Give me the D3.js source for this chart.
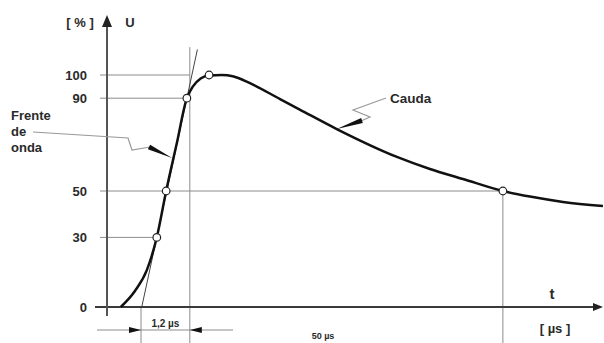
<!DOCTYPE html>
<html>
<head>
<meta charset="utf-8">
<script src="https://cdn.jsdelivr.net/npm/d3@7"></script>
<style>
  body { margin: 0; background: #fff; }
  svg { display: block; }
  text { font-family: "Liberation Sans", Arial, sans-serif; font-weight: bold; fill: #2a2a2a; }
</style>
</head>
<body>
<script>
// impulse wave, t in arbitrary (not to scale) units, u in %
const waveT = [2.8, 5.7, 8.1, 10.1, 12.0, 14.1, 16.2, 17.4, 19.0, 20.7, 23.3, 25.5, 29.0, 35.1, 39.1, 46.6, 58.8, 65.5, 72.2, 80.3, 85.8, 92.5, 100.6];
const waveU = [0, 7, 16, 30, 50, 70, 90, 95, 98.5, 99.8, 100, 99.5, 96.5, 89.6, 85.1, 76.7, 64.7, 59.5, 55.2, 50, 47.6, 45.3, 43.5];

// marked points on the wave
const markT = [10.1, 12.0, 16.2, 20.7, 80.3];
const markU = [30, 50, 90, 100, 50];

const yTicks = [0, 30, 50, 90, 100];

// virtual origin and the 1,2 us point
const frontT0 = 6.9, frontT1 = 16.8;

const width = 604, height = 343;

const x = d3.scaleLinear().domain([0, 100]).range([107, 600]);
const y = d3.scaleLinear().domain([0, 100]).range([307, 75]);

const svg = d3.select('body').append('svg')
    .attr('width', width)
    .attr('height', height);

const grid = '#8c8c8c';

// horizontal guide lines, each going to its marked point
const hEnd = { 100: x(frontT1), 90: x(markT[2]), 50: x(markT[4]), 30: x(markT[0]) };
svg.selectAll('.hgrid')
    .data([30, 50, 90, 100])
    .join('line')
    .attr('x1', 100)
    .attr('x2', d => hEnd[d])
    .attr('y1', d => y(d))
    .attr('y2', d => y(d))
    .attr('stroke', grid)
    .attr('stroke-width', 1);

// vertical guides
svg.append('line')
    .attr('x1', x(frontT1)).attr('x2', x(frontT1))
    .attr('y1', y(112)).attr('y2', height)
    .attr('stroke', grid);
svg.append('line')
    .attr('x1', x(markT[4])).attr('x2', x(markT[4]))
    .attr('y1', y(50)).attr('y2', height)
    .attr('stroke', grid);
svg.append('line')
    .attr('x1', x(frontT0)).attr('x2', x(frontT0))
    .attr('y1', y(0)).attr('y2', height)
    .attr('stroke', grid);

// tangent through 30% and 90%
const slope = (markU[2] - markU[0]) / (markT[2] - markT[0]);
const tAt = u => markT[0] + (u - markU[0]) / slope;
svg.append('line')
    .attr('x1', x(tAt(0))).attr('y1', y(0))
    .attr('x2', x(tAt(111))).attr('y2', y(111))
    .attr('stroke', '#444')
    .attr('stroke-width', 1);

// axes
svg.append('line')
    .attr('x1', 95).attr('x2', 596)
    .attr('y1', y(0)).attr('y2', y(0))
    .attr('stroke', '#3a3a3a').attr('stroke-width', 2);
svg.append('path')
    .attr('d', `M${x(100) + 3},${y(0)} l-10,-4 l0,8 z`)
    .attr('fill', '#222');
svg.append('line')
    .attr('x1', x(0)).attr('x2', x(0))
    .attr('y1', 25).attr('y2', 316)
    .attr('stroke', '#555').attr('stroke-width', 2);
svg.append('path')
    .attr('d', `M${x(0)},15 l-5,12 l10,0 z`)
    .attr('fill', '#222');

svg.selectAll('.ytick')
    .data(yTicks)
    .join('text')
    .attr('x', 87)
    .attr('y', d => y(d))
    .attr('dy', '0.36em')
    .attr('text-anchor', 'end')
    .style('font-size', '13px')
    .text(d => d);

svg.append('text').attr('x', 80).attr('y', 27).attr('text-anchor', 'middle')
    .style('font-size', '13px').text('[ % ]');
svg.append('text').attr('x', 130).attr('y', 27).attr('text-anchor', 'middle')
    .style('font-size', '13px').text('U');
svg.append('text').attr('x', 552).attr('y', 299).attr('text-anchor', 'middle')
    .style('font-size', '15px').text('t');
svg.append('text').attr('x', 555).attr('y', 333).attr('text-anchor', 'middle')
    .style('font-size', '13px').text('[ µs ]');

// wave
const line = d3.line()
    .x(d => x(d[0]))
    .y(d => y(d[1]))
    .curve(d3.curveMonotoneX);
svg.append('path')
    .datum(waveT.map((t, i) => [t, waveU[i]]))
    .attr('d', line)
    .attr('fill', 'none')
    .attr('stroke', '#111')
    .attr('stroke-width', 2.5);

svg.selectAll('.mark')
    .data(markT.map((t, i) => [t, markU[i]]))
    .join('circle')
    .attr('cx', d => x(d[0]))
    .attr('cy', d => y(d[1]))
    .attr('r', 3.8)
    .attr('fill', '#fff')
    .attr('stroke', '#222')
    .attr('stroke-width', 1.2);

// 1,2 us dimension
const dimY = 330;
svg.append('line')
    .attr('x1', 97).attr('x2', 233)
    .attr('y1', dimY).attr('y2', dimY)
    .attr('stroke', grid);
svg.append('path')
    .attr('d', `M${x(frontT0)},${dimY} l-12,-3 l0,6 z M${x(frontT1)},${dimY} l12,-3 l0,6 z`)
    .attr('fill', '#111');
svg.append('text')
    .attr('x', (x(frontT0) + x(frontT1)) / 2).attr('y', 327)
    .attr('text-anchor', 'middle')
    .style('font-size', '10px').text('1,2 µs');
svg.append('text')
    .attr('x', 323).attr('y', 339)
    .attr('text-anchor', 'middle')
    .style('font-size', '9px').text('50 µs');

// annotation leaders
function wedge(x0, y0, x1, y1, w) {
    const a = Math.atan2(y1 - y0, x1 - x0);
    const nx = -Math.sin(a) * w, ny = Math.cos(a) * w;
    return `M${x0 + nx},${y0 + ny} L${x1},${y1} L${x0 - nx},${y0 - ny} Z`;
}

const fx = x(13.2), fy = y(64.2);
svg.append('path')
    .attr('d', `M33,132 L128,138 L132,150 L150,147`)
    .attr('fill', 'none').attr('stroke', '#999').attr('stroke-width', 1.2);
svg.append('path')
    .attr('d', wedge(149, 147, fx, fy, 2.6))
    .attr('fill', '#111');
svg.selectAll('.frente')
    .data(['Frente', 'de', 'onda'])
    .join('text')
    .attr('x', 11)
    .attr('y', (d, i) => 120 + i * 16)
    .style('font-size', '13px')
    .text(d => d);

const cx = x(46.6), cy = y(76.7);
svg.append('path')
    .attr('d', `M386,98 L353,110 L370,117 L361,121`)
    .attr('fill', 'none').attr('stroke', '#999').attr('stroke-width', 1.2);
svg.append('path')
    .attr('d', wedge(362, 120.5, cx, cy, 2.6))
    .attr('fill', '#111');
svg.append('text').attr('x', 390).attr('y', 103)
    .style('font-size', '13.5px').text('Cauda');
</script>
</body>
</html>
